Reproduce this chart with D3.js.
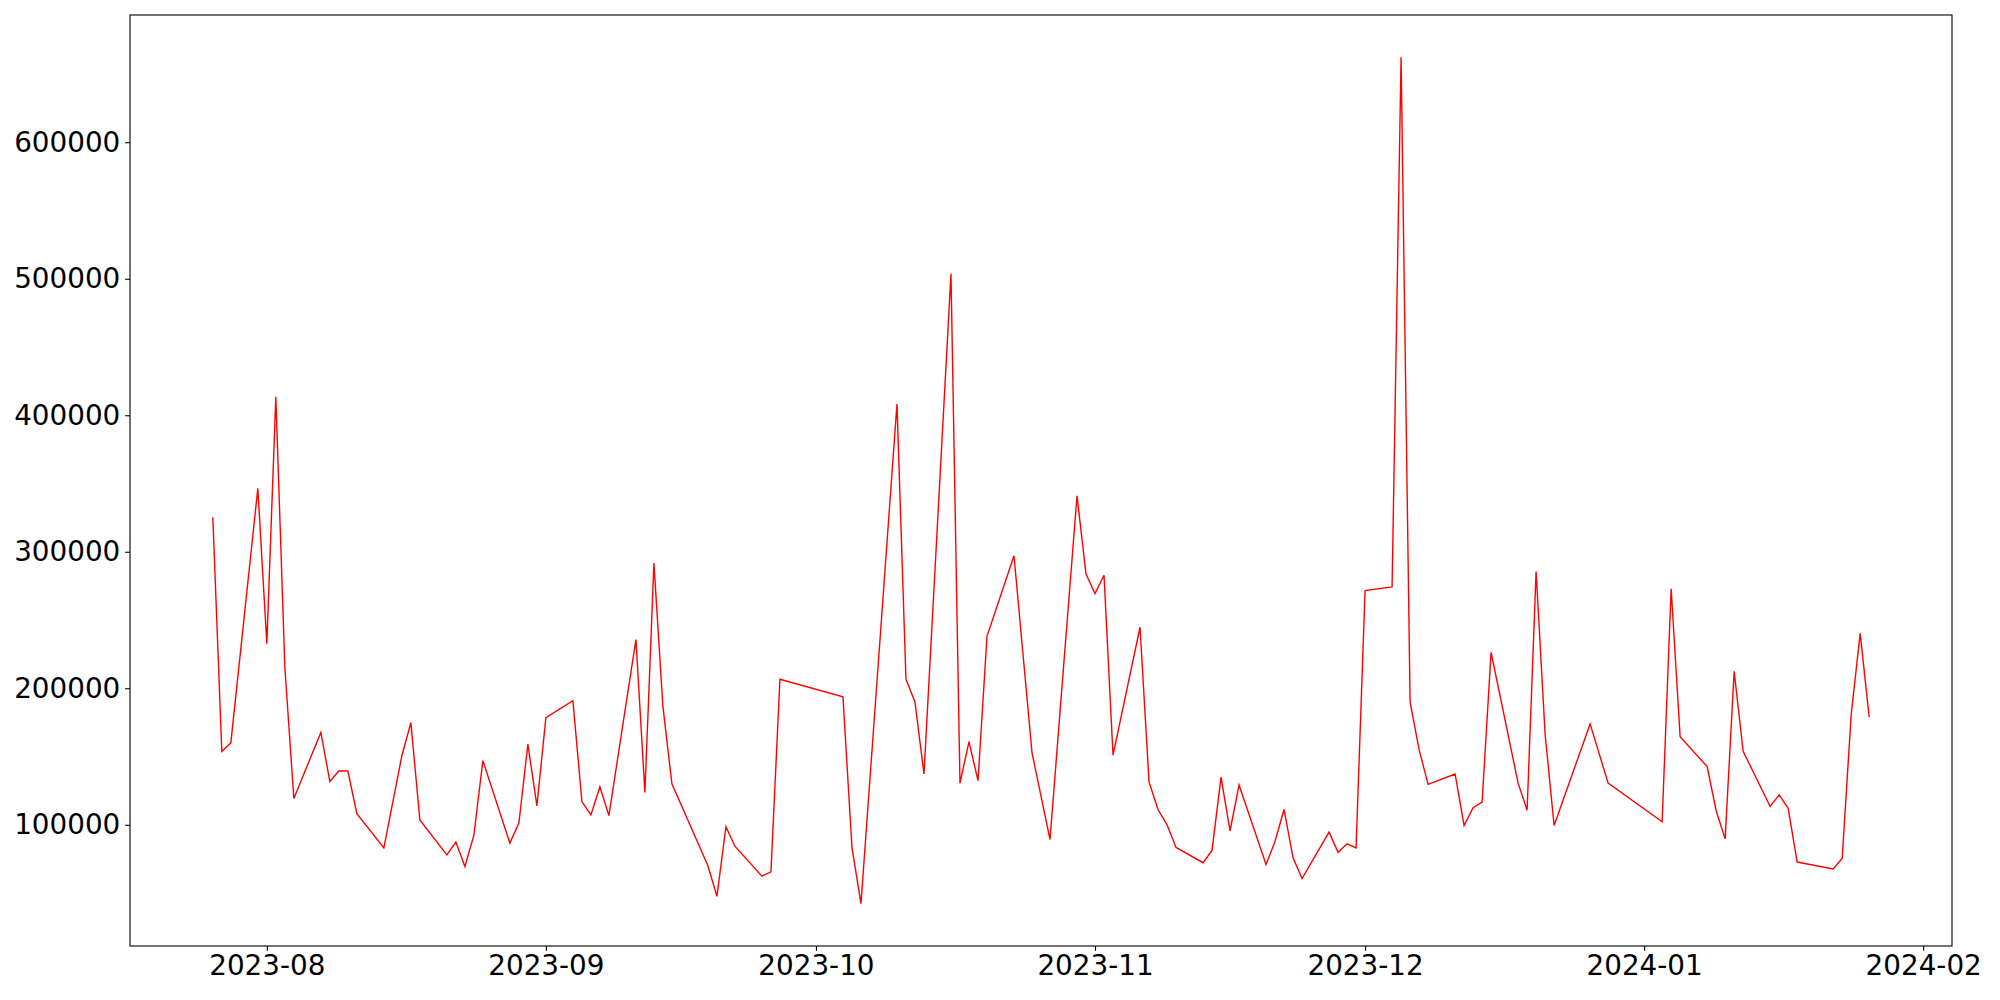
<!DOCTYPE html>
<html>
<head>
<meta charset="utf-8">
<script src="https://cdn.jsdelivr.net/npm/d3@7"></script>
<style>
  html, body { margin: 0; padding: 0; background: #fff; }
  svg { display: block; }
</style>
</head>
<body>
<div id="chart"></div>
<script>
// Daily values (dates with no visible vertex are left out).
const dates = [
  '2023-07-26', '2023-07-27', '2023-07-28', '2023-07-31', '2023-08-01', '2023-08-02', '2023-08-03', '2023-08-04',
  '2023-08-07', '2023-08-08', '2023-08-09', '2023-08-10', '2023-08-11', '2023-08-14', '2023-08-16', '2023-08-17',
  '2023-08-18', '2023-08-21', '2023-08-22', '2023-08-23', '2023-08-24', '2023-08-25', '2023-08-28', '2023-08-29',
  '2023-08-30', '2023-08-31', '2023-09-01', '2023-09-04', '2023-09-05', '2023-09-06', '2023-09-07', '2023-09-08',
  '2023-09-11', '2023-09-12', '2023-09-13', '2023-09-14', '2023-09-15', '2023-09-19', '2023-09-20', '2023-09-21',
  '2023-09-22', '2023-09-25', '2023-09-26', '2023-09-27', '2023-10-04', '2023-10-05', '2023-10-06', '2023-10-10',
  '2023-10-11', '2023-10-12', '2023-10-13', '2023-10-16', '2023-10-17', '2023-10-18', '2023-10-19', '2023-10-20',
  '2023-10-23', '2023-10-25', '2023-10-27', '2023-10-30', '2023-10-31', '2023-11-01', '2023-11-02', '2023-11-03',
  '2023-11-06', '2023-11-07', '2023-11-08', '2023-11-09', '2023-11-10', '2023-11-13', '2023-11-14', '2023-11-15',
  '2023-11-16', '2023-11-17', '2023-11-20', '2023-11-21', '2023-11-22', '2023-11-23', '2023-11-24', '2023-11-27',
  '2023-11-28', '2023-11-29', '2023-11-30', '2023-12-01', '2023-12-04', '2023-12-05', '2023-12-06', '2023-12-07',
  '2023-12-08', '2023-12-11', '2023-12-12', '2023-12-13', '2023-12-14', '2023-12-15', '2023-12-18', '2023-12-19',
  '2023-12-20', '2023-12-21', '2023-12-22', '2023-12-26', '2023-12-28', '2024-01-03', '2024-01-04', '2024-01-05',
  '2024-01-08', '2024-01-09', '2024-01-10', '2024-01-11', '2024-01-12', '2024-01-15', '2024-01-16', '2024-01-17',
  '2024-01-18', '2024-01-22', '2024-01-23', '2024-01-24', '2024-01-25', '2024-01-26'
];
const values = [
  325300, 153700, 160000, 346400, 232600, 413600, 215600, 119300,
  167600, 131800, 139400, 139400, 108100, 83000, 150600, 174800,
  103600, 78000, 87400, 69500, 92400, 147000, 86600, 101300,
  159100, 113900, 178400, 190900, 117000, 107200, 127800, 106700,
  235700, 123700, 291700, 186500, 130000, 70000, 47600, 98600,
  84300, 62400, 65500, 206600, 193800, 83400, 42200, 408200,
  206600, 190000, 137200, 503600, 130500, 160900, 132300, 238000,
  297100, 152900, 89200, 341000, 283700, 269300, 282800, 151100,
  244700, 131400, 111200, 100000, 83400, 72200, 81200, 134900,
  95500, 129100, 70900, 87900, 111200, 75800, 60600, 94600,
  79800, 86100, 83000, 271600, 274300, 662200, 190000, 155100,
  129600, 137200, 99500, 112500, 116600, 226300, 130500, 110700,
  285500, 166300, 99500, 173900, 130500, 102200, 272900, 164500,
  142600, 110300, 89700, 212400, 153800, 113400, 121900, 112100,
  72700, 67700, 75400, 180600, 240200, 178800
];
const yTicks = [100000, 200000, 300000, 400000, 500000, 600000];
const xTicks = ['2023-08-01', '2023-09-01', '2023-10-01', '2023-11-01', '2023-12-01', '2024-01-01', '2024-02-01'];

const width = 2000;
const height = 1000;
const margin = { top: 15, right: 48, bottom: 54, left: 130 };
const fontSize = 27.8;
const tickLen = 4.86;

const parse = d3.timeParse('%Y-%m-%d');
const points = dates.map((d, i) => ({ date: parse(d), value: values[i] }));

// matplotlib-like 5% padding on both axes
function padded(extent) {
  const span = extent[1] - extent[0];
  return [extent[0] - span * 0.05, +extent[1] + span * 0.05];
}
const xExtent = padded(d3.extent(points, p => p.date.getTime()));
const yExtent = padded(d3.extent(points, p => p.value));

const x = d3.scaleTime()
  .domain(xExtent.map(t => new Date(t)))
  .range([margin.left, width - margin.right]);
const y = d3.scaleLinear()
  .domain(yExtent)
  .range([height - margin.bottom, margin.top]);

const svg = d3.select('#chart')
  .append('svg')
  .attr('width', width)
  .attr('height', height);

svg.append('path')
  .datum(points)
  .attr('fill', 'none')
  .attr('stroke', '#ff0000')
  .attr('stroke-width', 1.4)
  .attr('stroke-linejoin', 'miter')
  .attr('d', d3.line().x(p => x(p.date)).y(p => y(p.value)));

const xAxis = svg.append('g')
  .attr('transform', `translate(0,${height - margin.bottom})`)
  .call(d3.axisBottom(x)
    .tickValues(xTicks.map(parse))
    .tickFormat(d3.timeFormat('%Y-%m'))
    .tickSize(tickLen)
    .tickPadding(4.86));

const yAxis = svg.append('g')
  .attr('transform', `translate(${margin.left},0)`)
  .call(d3.axisLeft(y)
    .tickValues(yTicks)
    .tickFormat(d3.format('d'))
    .tickSize(tickLen)
    .tickPadding(4.86));

[xAxis, yAxis].forEach(g => {
  g.select('.domain').remove();
  g.selectAll('.tick line').attr('stroke', '#000').attr('stroke-width', 1.1);
  g.selectAll('.tick text')
    .attr('fill', '#000')
    .style('font-family', '"DejaVu Sans", sans-serif')
    .style('font-size', `${fontSize}px`);
});

// axes frame
svg.append('rect')
  .attr('x', margin.left)
  .attr('y', margin.top)
  .attr('width', width - margin.left - margin.right)
  .attr('height', height - margin.top - margin.bottom)
  .attr('fill', 'none')
  .attr('stroke', '#000')
  .attr('stroke-width', 1.1);
</script>
</body>
</html>
